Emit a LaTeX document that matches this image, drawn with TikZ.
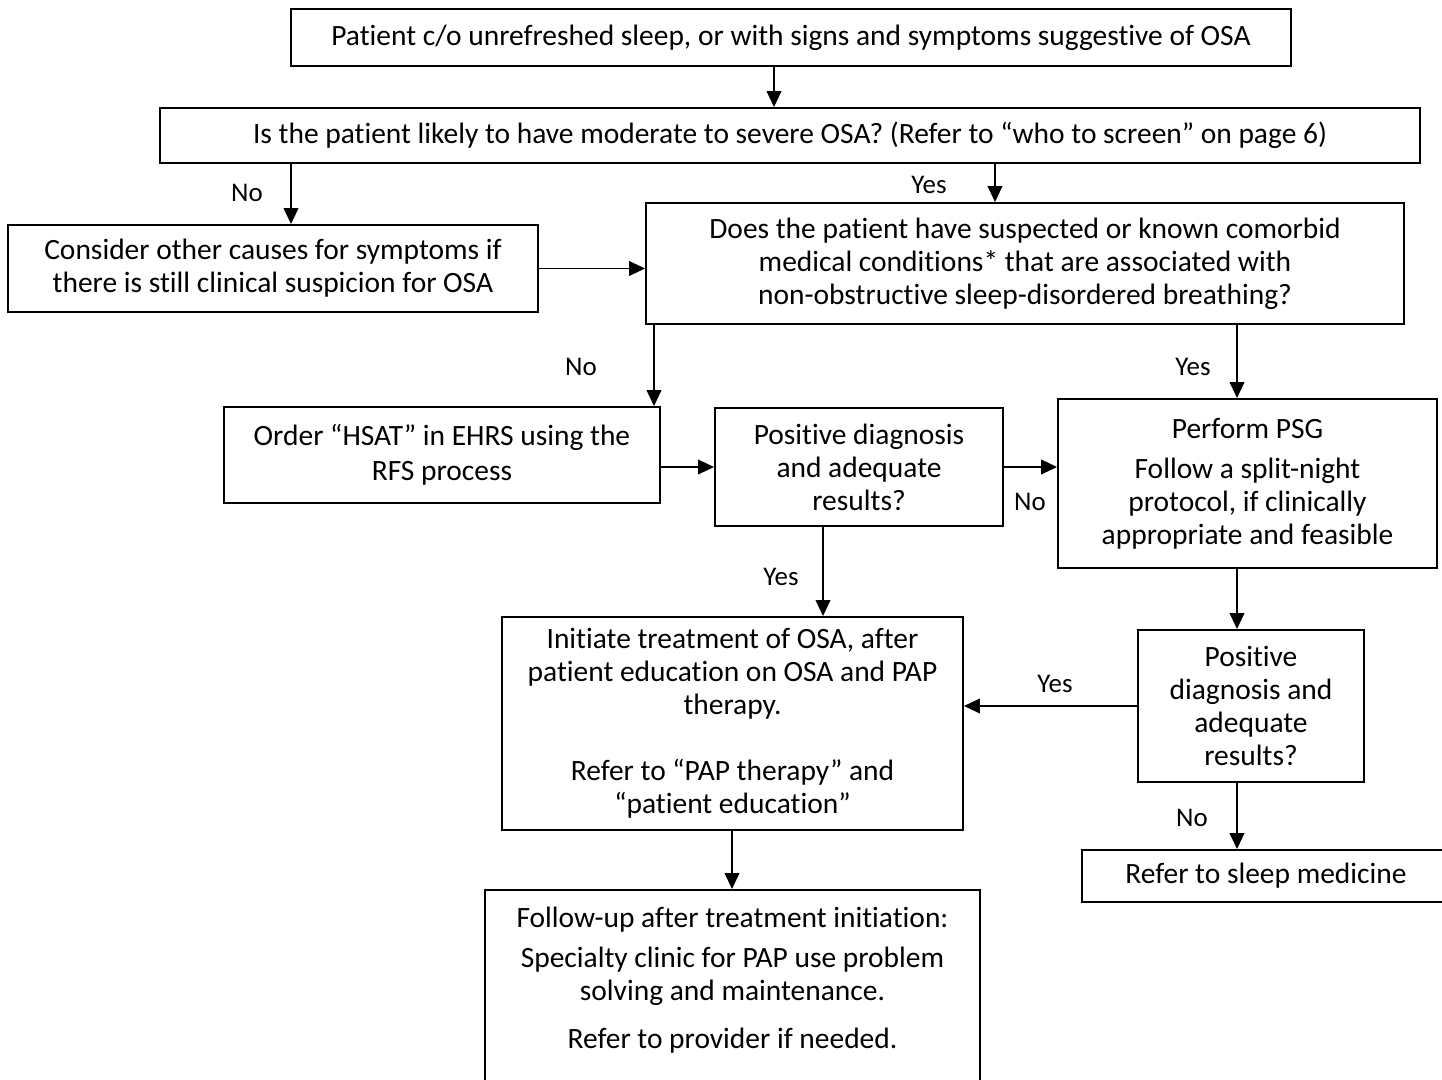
\documentclass[tikz,border=0pt]{standalone}
\usepackage{fontspec}
\setmainfont[Ligatures=NoCommon]{Carlito}
\usetikzlibrary{arrows.meta}
\begin{document}
\begin{tikzpicture}[x=0.75pt,y=-0.75pt,
  sz/.style 2 args={minimum width=#1*0.75pt, minimum height=#2*0.75pt},
  box/.style={draw, line width=1.4pt, inner sep=0pt, align=center,
    font=\fontsize{22.1pt}{24.75pt}\selectfont},
  lbl/.style={inner sep=0pt, font=\fontsize{20.2pt}{24pt}\selectfont},
  arr/.style={line width=1.3pt, -{Triangle[length=12pt,width=11pt]}}]
\useasboundingbox (0,0) rectangle (1442,1080);
\clip (0,0) rectangle (1442,1080);

% nodes
\node[box, sz={1000}{57}] (start) at (791,37.5)
  {Patient c/o unrefreshed sleep, or with signs and symptoms suggestive of OSA};
\node[box, sz={1260}{55}] (q1) at (790,135.5)
  {Is the patient likely to have moderate to severe OSA? (Refer to “who to screen” on page 6)};
\node[box, sz={530}{87}] (other) at (273,268.5)
  {Consider other causes for symptoms if\\there is still clinical suspicion for OSA};
\node[box, sz={758}{121}] (como) at (1025,263.5)
  {Does the patient have suspected or known comorbid\\medical conditions* that are associated with\\non-obstructive sleep-disordered breathing?};
\node[box, sz={436}{96}] (hsat) at (442,455)
  {Order “HSAT” in EHRS using the\\[1.5pt]RFS process};
\node[box, sz={288}{118}] (pos1) at (859,467)
  {Positive diagnosis\\and adequate\\results?};
\node[box, sz={379}{169}] (psg) at (1247.5,483.5)
  {Perform PSG\\[5.25pt]Follow a split-night\\protocol, if clinically\\appropriate and feasible};
\node[box, sz={461}{213}] (init) at (732.5,723.5)
  {Initiate treatment of OSA, after\\patient education on OSA and PAP\\therapy.\\[24.75pt]Refer to “PAP therapy” and\\“patient education”};
\node[box, sz={226}{152}] (pos2) at (1251,706)
  {Positive\\diagnosis and\\adequate\\results?};
\node[box, sz={368}{52}] (refer) at (1266,876)
  {Refer to sleep medicine};
\node[box, sz={495}{0}, anchor=north, inner ysep=13pt] (fu) at (732.5,889)
  {Follow-up after treatment initiation:\\[5.25pt]Specialty clinic for PAP use problem\\solving and maintenance.\\[11pt]Refer to provider if needed.\rule[-60pt]{0pt}{0pt}};

% column helpers
\coordinate (xa) at (774,0);
\coordinate (xb) at (291,0);
\coordinate (xc) at (995,0);
\coordinate (xd) at (654,0);
\coordinate (xe) at (1237,0);
\coordinate (xf) at (823,0);
\coordinate (xg) at (732,0);

% connectors
\draw[arr] (start.south -| xa) -- (q1.north -| xa);
\draw[arr] (q1.south -| xb) -- (other.north -| xb);
\draw[arr] (q1.south -| xc) -- (como.north -| xc);
\draw[arr] (other.east) -- (other.east -| como.west);
\draw[arr] (como.south -| xd) -- (hsat.north -| xd);
\draw[arr] (como.south -| xe) -- (psg.north -| xe);
\draw[arr] (pos1.west -| hsat.east) -- (pos1.west);
\draw[arr] (pos1.east) -- (pos1.east -| psg.west);
\draw[arr] (pos1.south -| xf) -- (init.north -| xf);
\draw[arr] (psg.south -| xe) -- (pos2.north -| xe);
\draw[arr] (pos2.west) -- (pos2.west -| init.east);
\draw[arr] (init.south -| xg) -- (fu.north -| xg);
\draw[arr] (pos2.south -| xe) -- (refer.north -| xe);

% labels
\node[lbl] (l1) at (247,193) {No};
\node[lbl] (l2) at (929,185) {Yes};
\node[lbl] (l3) at (581,367) {No};
\node[lbl] (l4) at (1193,367) {Yes};
\node[lbl] (l5) at (1030,502) {No};
\node[lbl] (l6) at (781,577) {Yes};
\node[lbl] (l7) at (1055,684) {Yes};
\node[lbl] (l8) at (1192,818) {No};
\end{tikzpicture}
\end{document}
